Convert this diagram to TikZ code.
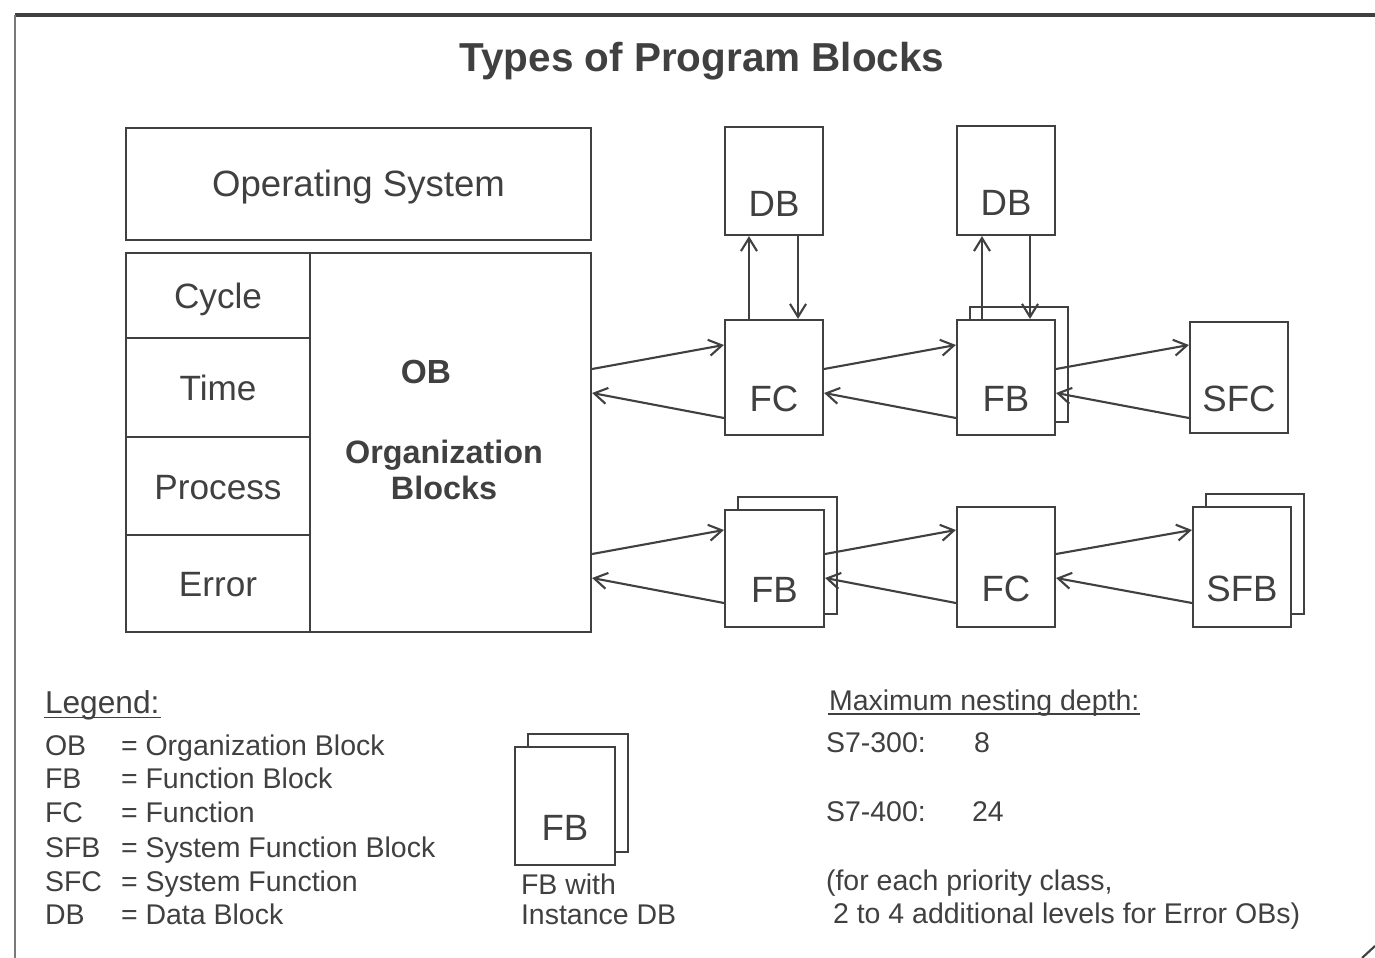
\documentclass[tikz,border=0pt]{standalone}
\usepackage{fontspec}
\setmainfont{Liberation Sans}
\usepackage{xcolor}
\usepackage{tikz}
\usetikzlibrary{arrows.meta,shadows}
\definecolor{ink}{gray}{0.25}
\tikzset{blk/.style={draw=ink,line width=0.6pt,fill=white,inner sep=0pt,minimum width=0.98cm,minimum height=1.15cm,text height=0.68cm,text depth=0pt,font=\fontsize{10.4}{12}\selectfont}}
\tikzset{inst/.style={copy shadow={shadow xshift=0.13cm,shadow yshift=0.13cm,draw=ink,fill=white,line width=0.6pt}}}
\tikzset{part/.style={draw=ink,line width=0.6pt,inner sep=0pt,minimum width=1.84cm,text height=1.4ex,text depth=0pt,font=\fontsize{10}{12}\selectfont}}
\tikzset{txt/.style={anchor=base west,inner sep=0pt,font=\fontsize{8.1}{10}\selectfont}}
% call arrow and return arrow between two blocks
\newcommand\calls[3]{%
  \draw[->] (#1.east |- 0,#3+24) -- (#2.west |- 0,#3);
  \draw[->] (#2.west |- 0,#3+73) -- (#1.east |- 0,#3+48);}

\begin{document}
\begin{tikzpicture}[x=0.01cm,y=-0.01cm,>={Straight Barb[length=1.3mm,width=1.6mm]},color=ink,line width=0.6pt]
    \useasboundingbox (0,0) rectangle (1375,958);
    \draw[line width=1pt] (15,15) -- (1375,15);
    \draw[ink!70,line width=0.5pt] (15,15) -- (15,958);
    \draw (1362,958) -- (1375,946);

    \node[anchor=base,font=\bfseries\fontsize{11.5}{14}\selectfont] (title) at (702,72) {Types of Program Blocks};

    % operating system and organization blocks
    \node[part,minimum width=4.65cm,minimum height=1.12cm,font=\fontsize{10.4}{12}\selectfont] (os) at (358.5,184) {Operating System};
    \node[part,minimum height=0.85cm] (cycle) at (218,295.5) {Cycle};
    \node[part,minimum height=0.99cm] (time) at (218,387.5) {Time};
    \node[part,minimum height=0.98cm] (process) at (218,486) {Process};
    \node[part,minimum height=0.97cm] (error) at (218,583.5) {Error};
    \node[part,minimum width=2.81cm,minimum height=3.79cm] (ob) at (450.5,442.5) {};
    \node[font=\bfseries\fontsize{9.5}{11}\selectfont] (obname) at (426,372) {OB};
    \node[font=\bfseries\fontsize{9.2}{10}\selectfont,align=center] (obtext) at (444,470) {Organization\\Blocks};

    % called blocks
    \node[blk,minimum height=1.08cm,text height=0.70cm] (db1) at (774,181) {DB};
    \node[blk] (fc1) at (774,377.5) {FC};
    \node[blk,minimum height=1.09cm,text height=0.70cm] (db2) at (1006,180.5) {DB};
    \node[blk,inst] (fb1) at (1006,377.5) {FB};
    \node[blk,minimum height=1.11cm] (sfc) at (1239,377.5) {SFC};
    \node[blk,inst,minimum width=0.99cm,minimum height=1.17cm] (fb2) at (774.5,568.5) {FB};
    \node[blk,minimum height=1.20cm] (fc2) at (1006,567) {FC};
    \node[blk,inst,minimum height=1.20cm] (sfb) at (1242,567) {SFB};

    \calls{ob}{fc1}{345}
    \calls{fc1}{fb1}{345}
    \calls{fb1}{sfc}{345}
    \calls{ob}{fb2}{530}
    \calls{fb2}{fc2}{530}
    \calls{fc2}{sfb}{530}

    \draw[->] ([xshift=-0.25cm]fc1.north) -- ([xshift=-0.25cm]db1.south);
    \draw[->] ([xshift=0.24cm]db1.south) -- ([xshift=0.24cm]fc1.north);
    \draw[->] ([xshift=-0.24cm]fb1.north) -- ([xshift=-0.24cm]db2.south);
    \draw[->] ([xshift=0.24cm]db2.south) -- ([xshift=0.24cm]fb1.north);

    % legend
    \node[txt,font=\fontsize{9}{11}\selectfont] (legend) at (44,714) {Legend:};
    \draw[line width=0.5pt] ([yshift=-0.035cm]legend.base west) -- ([yshift=-0.035cm]legend.base east);
    \node[txt] (ab1) at (44,755) {OB};
    \node[txt] (de1) at (120,755) {= Organization Block};
    \node[txt] (ab2) at (44,789) {FB};
    \node[txt] (de2) at (120,789) {= Function Block};
    \node[txt] (ab3) at (44,823) {FC};
    \node[txt] (de3) at (120,823) {= Function};
    \node[txt] (ab4) at (44,857) {SFB};
    \node[txt] (de4) at (120,857) {= System Function Block};
    \node[txt] (ab5) at (44,891) {SFC};
    \node[txt] (de5) at (120,891) {= System Function};
    \node[txt] (ab6) at (44,924) {DB};
    \node[txt] (de6) at (120,924) {= Data Block};

    \node[blk,inst,minimum width=1.0cm,minimum height=1.18cm] (fbkey) at (565,806) {FB};
    \node[txt] (key1) at (520,894) {FB with};
    \node[txt] (key2) at (520,924) {Instance DB};

    % nesting depth
    \node[txt] (depth) at (828,711) {Maximum nesting depth:};
    \draw[line width=0.5pt] ([yshift=-0.03cm]depth.base west) -- ([yshift=-0.03cm]depth.base east);
    \node[txt] (s3) at (825,753) {S7-300:};
    \node[txt] (s3n) at (973,753) {8};
    \node[txt] (s4) at (825,821) {S7-400:};
    \node[txt] (s4n) at (971,821) {24};
    \node[txt] (note1) at (825,890) {(for each priority class,};
    \node[txt] (note2) at (832,923) {2 to 4 additional levels for Error OBs)};
\end{tikzpicture}
\end{document}
